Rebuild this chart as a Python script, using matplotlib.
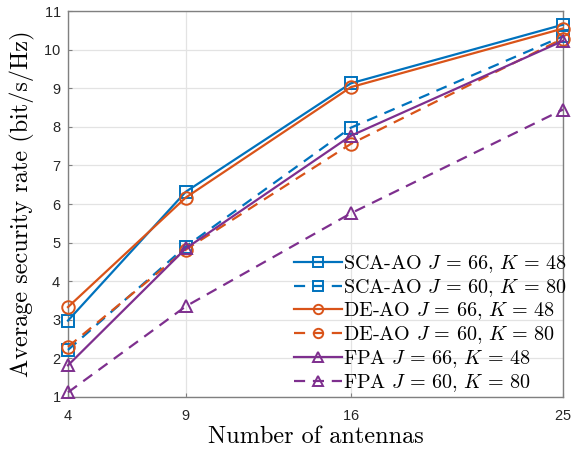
import matplotlib.pyplot as plt

# antennas on x axis
antennas = [4, 9, 16, 25]

sca_j66 = [2.98, 6.32, 9.13, 10.65]
sca_j60 = [2.22, 4.90, 7.98, 10.35]
de_j66 = [3.33, 6.17, 9.03, 10.55]
de_j60 = [2.30, 4.82, 7.56, 10.29]
fpa_j66 = [1.82, 4.85, 7.77, 10.23]
fpa_j60 = [1.12, 3.35, 5.76, 8.45]

labels = [
    r'SCA-AO $J\,=\,66,\,K\,=\,48$',
    r'SCA-AO $J\,=\,60,\,K\,=\,80$',
    r'DE-AO $J\,=\,66,\,K\,=\,48$',
    r'DE-AO $J\,=\,60,\,K\,=\,80$',
    r'FPA $J\,=\,66,\,K\,=\,48$',
    r'FPA $J\,=\,60,\,K\,=\,80$',
]

plt.rcParams['mathtext.fontset'] = 'cm'
plt.rcParams['axes.formatter.use_mathtext'] = True

blue, orange, purple = '#0072BD', '#D95319', '#7E2F8E'

fig = plt.figure(figsize=(5.79, 4.55), dpi=100)
ax = fig.add_axes([0.1174, 0.1275, 0.855, 0.848])

series = [
    (sca_j66, blue, '-', 's'),
    (sca_j60, blue, '--', 's'),
    (de_j66, orange, '-', 'o'),
    (de_j60, orange, '--', 'o'),
    (fpa_j66, purple, '-', '^'),
    (fpa_j60, purple, '--', '^'),
]
for (vals, c, ls, mk), lab in zip(series, labels):
    ax.plot(antennas, vals, color=c, linestyle=ls, marker=mk, markersize=9,
            markerfacecolor='none', markeredgewidth=1.4, linewidth=1.6,
            dashes=(5, 3.5) if ls == '--' else (None, None), label=lab,
            clip_on=False, zorder=3)

ax.set_xlim(4, 25)
ax.set_ylim(1, 11)
ax.set_xticks(antennas)
ax.set_yticks(range(1, 12))
ax.grid(True, color='#e3e3e3', linewidth=0.9)
ax.set_axisbelow(True)
for sp in ax.spines.values():
    sp.set_color('#808080')
    sp.set_linewidth(1.0)
ax.tick_params(direction='in', length=3, color='#808080', labelsize=10.5,
               labelcolor='#262626')
ax.tick_params(axis='x', pad=9)
ax.tick_params(axis='y', pad=5)
for t in ax.get_xticklabels() + ax.get_yticklabels():
    t.set_fontfamily('Liberation Sans')

ax.set_xlabel('Number of antennas', fontfamily='cmr10', fontsize=17.5, labelpad=2)
ax.set_ylabel('Average security rate (bit/s/Hz)', fontfamily='cmr10', fontsize=17.5,
              labelpad=6)

leg = ax.legend(loc='lower right', bbox_to_anchor=(1.026, -0.016), frameon=False,
                prop={'family': 'cmr10', 'size': 14.5},
                handlelength=2.4, handletextpad=0.05, labelspacing=0.1,
                borderaxespad=0.05, markerscale=0.75)

fig.savefig('out.png', dpi=100)
